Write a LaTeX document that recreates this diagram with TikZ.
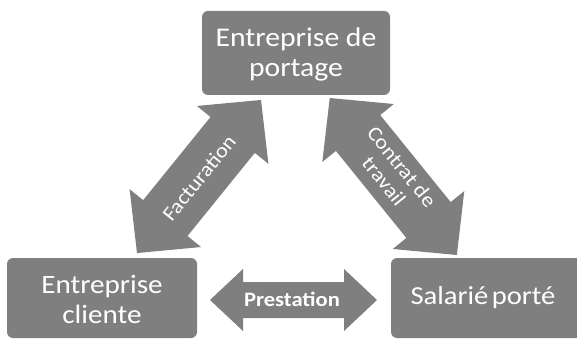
\documentclass[tikz,border=0pt]{standalone}
\usepackage{fontspec}
\setmainfont{Carlito}[FakeStretch=1.1]
\definecolor{boxgray}{HTML}{7F7F7F}
\tikzset{
  x=1pt, y=1pt,
  grayblock/.style={fill=boxgray, rounded corners=6pt},
  boxtext/.style={text=white, align=center, inner sep=0pt},
  arrowtext/.style={text=white, align=center, inner sep=0pt},
}
% center x, center y, angle, length, head length, head half-width, shaft half-width
\newcommand\blkarrow[7]{%
  \begin{scope}[shift={(#1,#2)}, rotate=#3]
    \fill[boxgray] (-#4/2,0) -- (-#4/2+#5,#6) -- (-#4/2+#5,#7) -- (#4/2-#5,#7)
      -- (#4/2-#5,#6) -- (#4/2,0) -- (#4/2-#5,-#6) -- (#4/2-#5,-#7)
      -- (-#4/2+#5,-#7) -- (-#4/2+#5,-#6) -- cycle;
  \end{scope}}
\begin{document}
\begin{tikzpicture}
\useasboundingbox (0,0) rectangle (577,340);
\clip (0,0) rectangle (577,340);
% boxes
\fill[grayblock] (202,245) rectangle (390,329);
\fill[grayblock] (7,2) rectangle (197,82);
\fill[grayblock] (391,2) rectangle (600,82);
\node[boxtext, font=\fontsize{27}{30}\selectfont] (top) at (296,286) {Entreprise de\\portage};
\node[boxtext, font=\fontsize{26.5}{30}\selectfont] (client) at (102,41) {Entreprise\\cliente};
\node[boxtext, font=\fontsize{26}{30}\selectfont] (salarie) at (483,42) {Salari\'e\hspace{-0.12em} port\'e};
% block arrows
\blkarrow{199}{163.5}{51}{197}{45}{46}{28.5}
\blkarrow{393.3}{163.5}{-51}{202}{45}{46}{28.5}
\blkarrow{293.5}{40}{0}{167}{33}{31}{18}
\node[arrowtext, rotate=51, font=\fontsize{20.5}{24}\selectfont] (fact) at (199,162) {Facturation};
\node[arrowtext, rotate=-51, font=\fontsize{20.5}{23}\selectfont] (contrat) at (393,166) {Contrat de\\travail};
\node[arrowtext, font=\bfseries\fontsize{20.5}{24}\selectfont] (prest) at (292,41) {Prestation};
\end{tikzpicture}
\end{document}
